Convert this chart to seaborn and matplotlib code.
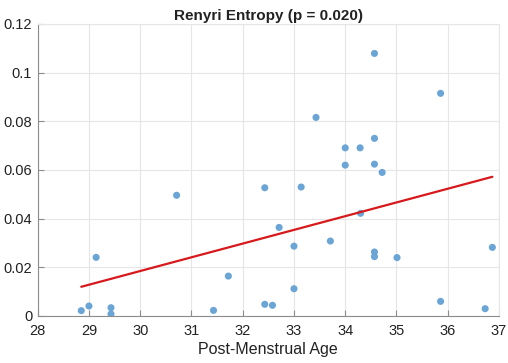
import matplotlib
matplotlib.use("Agg")
import matplotlib.pyplot as plt
import seaborn as sns
import pandas as pd

# Post-menstrual age (weeks) and Renyi entropy per subject
pma = [28.85, 29.00, 29.14, 29.43, 29.43, 30.71, 31.43, 31.72,
       32.43, 32.43, 32.58, 32.71, 33.00, 33.00, 33.14, 33.43,
       33.71, 34.00, 34.00, 34.29, 34.30, 34.57, 34.57, 34.57,
       34.57, 34.57, 34.72, 35.01, 35.86, 35.86, 36.73, 36.87]
entropy = [0.0022, 0.0041, 0.0241, 0.0034, 0.0008, 0.0496, 0.0023, 0.0164,
           0.0527, 0.0048, 0.0044, 0.0364, 0.0287, 0.0112, 0.0530, 0.0816,
           0.0308, 0.0691, 0.0620, 0.0691, 0.0422, 0.1079, 0.0730, 0.0624,
           0.0263, 0.0244, 0.0590, 0.0240, 0.0915, 0.0060, 0.0030, 0.0282]

# Linear fit line endpoints
fit_x = [28.85, 36.87]
fit_y = [0.0120, 0.0572]

x_ticks = [28, 29, 30, 31, 32, 33, 34, 35, 36, 37]
y_ticks = [0, 0.02, 0.04, 0.06, 0.08, 0.1, 0.12]
y_tick_labels = ["0", "0.02", "0.04", "0.06", "0.08", "0.1", "0.12"]

sns.set_theme(style="white")
plt.rcParams["font.family"] = ["Liberation Sans", "DejaVu Sans"]

df = pd.DataFrame({"pma": pma, "entropy": entropy})
fit = pd.DataFrame({"x": fit_x, "y": fit_y})

fig = plt.figure(figsize=(5.08, 3.63), dpi=100)
ax = fig.add_axes([0.0742, 0.1295, 0.9081, 0.8044])

sns.scatterplot(data=df, x="pma", y="entropy", ax=ax, color="#6aa5d5",
                s=26, edgecolor="none", zorder=3)
sns.lineplot(data=fit, x="x", y="y", ax=ax, color="#d7191c", lw=1.6,
             zorder=4)

ax.set_xlim(28, 37)
ax.set_ylim(0, 0.12)
ax.set_xticks(x_ticks)
ax.set_xticklabels([str(t) for t in x_ticks])
ax.set_yticks(y_ticks)
ax.set_yticklabels(y_tick_labels)

ax.grid(True, color="#e6e6e6", lw=0.8)
ax.set_axisbelow(True)
for side in ("top", "right"):
    ax.spines[side].set_color("#e6e6e6")
    ax.spines[side].set_linewidth(0.8)
for side in ("left", "bottom"):
    ax.spines[side].set_color("#8c8c8c")
    ax.spines[side].set_linewidth(0.8)

ax.tick_params(axis="both", direction="in", length=4, width=0.8,
               color="#8c8c8c", labelsize=10.5, labelcolor="#222222",
               bottom=True, left=True)
ax.tick_params(axis="x", pad=6)
ax.tick_params(axis="y", pad=4)

ax.set_xlabel("Post-Menstrual Age", fontsize=11.5, color="#222222",
              labelpad=3)
ax.set_ylabel("")
ax.set_title("Renyri Entropy (p = 0.020)", fontsize=11, fontweight="bold",
             color="#222222", pad=3)

fig.savefig("out.png", dpi=100)
